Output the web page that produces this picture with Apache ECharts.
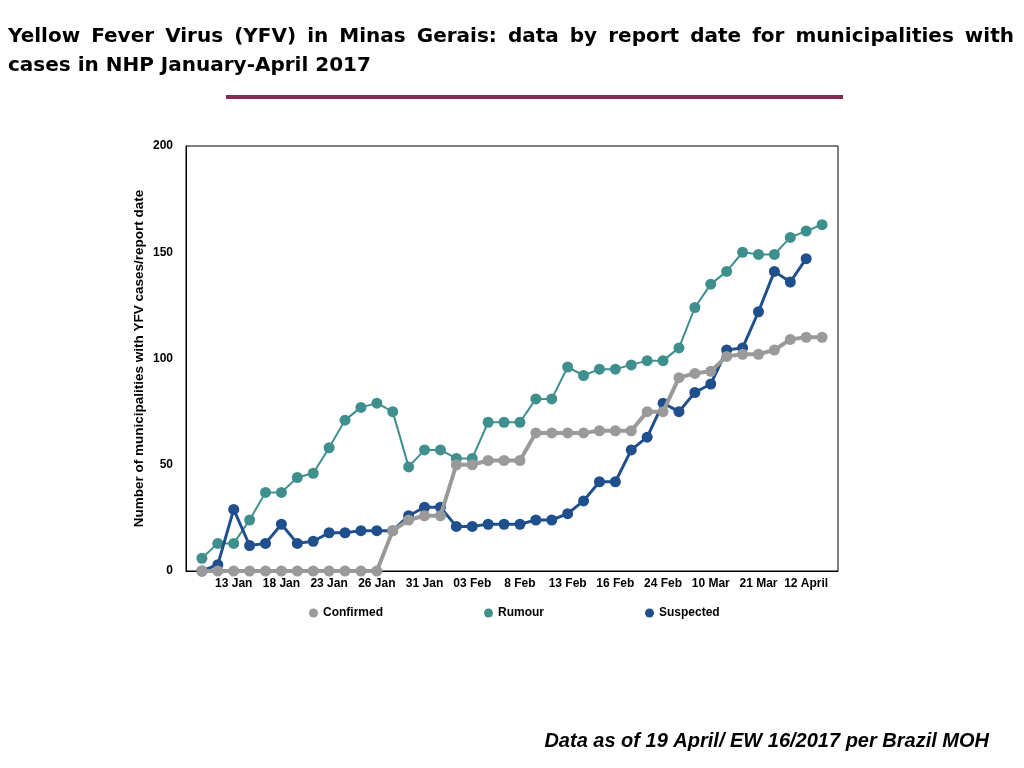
<!DOCTYPE html>
<html lang="en">
<head>
    <meta charset="UTF-8">
    <title>YFV Minas Gerais</title>
    <style>
        html, body { margin: 0; padding: 0; background: #fff; }
        #main { width: 1024px; height: 768px; }
    </style>
    <script src="https://cdn.jsdelivr.net/npm/echarts@6/dist/echarts.min.js"></script>
</head>
<body>
<div id="main"></div>
<script type="text/javascript">
    // report dates (only every third one is labelled on the axis)
    var dates = ['', '', '13 Jan', '', '', '18 Jan', '', '', '23 Jan', '', '', '26 Jan', '', '', '31 Jan',
        '', '', '03 Feb', '', '', '8 Feb', '', '', '13 Feb', '', '', '16 Feb', '', '', '24 Feb',
        '', '', '10 Mar', '', '', '21 Mar', '', '', '12 April', ''];
    var confirmed = [0, 0, 0, 0, 0, 0, 0, 0, 0, 0, 0, 0, 19, 24, 26, 26, 50, 50, 52, 52,
        52, 65, 65, 65, 65, 66, 66, 66, 75, 75, 91, 93, 94, 101, 102, 102, 104, 109, 110, 110];
    var rumour = [6, 13, 13, 24, 37, 37, 44, 46, 58, 71, 77, 79, 75, 49, 57, 57, 53, 53, 70, 70,
        70, 81, 81, 96, 92, 95, 95, 97, 99, 99, 105, 124, 135, 141, 150, 149, 149, 157, 160, 163];
    var suspected = [0, 3, 29, 12, 13, 22, 13, 14, 18, 18, 19, 19, 19, 26, 30, 30, 21, 21, 22, 22,
        22, 24, 24, 27, 33, 42, 42, 57, 63, 79, 75, 84, 88, 104, 105, 122, 141, 136, 147, null];
    var yTicks = [0, 50, 100, 150, 200];

    var titleLine1 = 'Yellow Fever Virus (YFV) in Minas Gerais: data by report date for municipalities with';
    var titleLine2 = 'cases in NHP January-April 2017';
    var footNote = 'Data as of 19 April/ EW 16/2017 per Brazil MOH';

    // one empty slot at each end so the points sit inside the box
    function pad(arr) { return [null].concat(arr, [null]); }
    var cats = [''].concat(dates, ['']);

    var FONT = '"Liberation Sans", Arial, Helvetica, sans-serif';
    var TITLE_FONT = 'bold 20px "DejaVu Sans", sans-serif';

    // justify the first title line like the slide does
    var ctx = document.createElement('canvas').getContext('2d');
    ctx.font = TITLE_FONT;
    var words = titleLine1.split(' ');
    var widths = words.map(function (w) { return ctx.measureText(w).width; });
    var total = widths.reduce(function (a, b) { return a + b; }, 0);
    var gap = (1014 - 8 - total) / (words.length - 1);
    var titleTexts = [];
    var cx = 8;
    words.forEach(function (w, i) {
        titleTexts.push({
            type: 'text', x: cx, y: 37,
            style: { text: w, font: TITLE_FONT, fill: '#000', verticalAlign: 'middle' }
        });
        cx += widths[i] + gap;
    });
    titleTexts.push({
        type: 'text', x: 8, y: 66,
        style: { text: titleLine2, font: TITLE_FONT, fill: '#000', verticalAlign: 'middle' }
    });

    var myChart = echarts.init(document.getElementById('main'));
    var option = {
        backgroundColor: '#fff',
        animation: false,
        textStyle: { fontFamily: FONT },
        graphic: titleTexts.concat([
            {
                type: 'rect', left: 226, top: 95,
                shape: { width: 617, height: 4 },
                style: { fill: '#862a56' }
            },
            {
                type: 'text', right: 35, top: 731,
                style: { text: footNote, font: 'italic bold 20px ' + FONT, fill: '#000' }
            }
        ]),
        legend: {
            left: 304,
            top: 602,
            itemGap: 101,
            itemWidth: 9,
            itemHeight: 9,
            icon: 'circle',
            textStyle: { fontSize: 12, fontWeight: 'bold', color: '#000' },
            data: ['Confirmed', 'Rumour', 'Suspected']
        },
        grid: {
            left: 186, right: 186, top: 146, bottom: 197,
            show: true, borderColor: '#000', borderWidth: 1
        },
        xAxis: {
            type: 'category',
            data: cats,
            boundaryGap: false,
            axisLine: { lineStyle: { color: '#000', width: 1 } },
            axisTick: { show: false },
            axisLabel: { interval: 0, fontSize: 12, fontWeight: 'bold', color: '#000', margin: 7 },
            splitLine: { show: false }
        },
        yAxis: {
            type: 'value',
            min: yTicks[0],
            max: yTicks[yTicks.length - 1],
            interval: 50,
            name: 'Number of municipalities with YFV cases/report date',
            nameLocation: 'middle',
            nameGap: 40,
            nameMoveOverlap: false,
            nameTextStyle: { fontSize: 13.5, fontWeight: 'bold', color: '#000' },
            axisLine: { show: true, lineStyle: { color: '#000', width: 1 } },
            axisTick: { show: false },
            axisLabel: { fontSize: 12, fontWeight: 'bold', color: '#000', margin: 13 },
            splitLine: { show: false }
        },
        series: [
            {
                name: 'Confirmed', type: 'line', data: pad(confirmed), z: 4,
                color: '#9a9a9a', symbol: 'circle', symbolSize: 11,
                lineStyle: { width: 4 }
            },
            {
                name: 'Rumour', type: 'line', data: pad(rumour), z: 2,
                color: '#3e8f8e', symbol: 'circle', symbolSize: 11,
                lineStyle: { width: 2 }
            },
            {
                name: 'Suspected', type: 'line', data: pad(suspected), z: 3,
                color: '#1f4f8c', symbol: 'circle', symbolSize: 11,
                lineStyle: { width: 3 }
            }
        ]
    };
    myChart.setOption(option);
</script>
</body>
</html>
